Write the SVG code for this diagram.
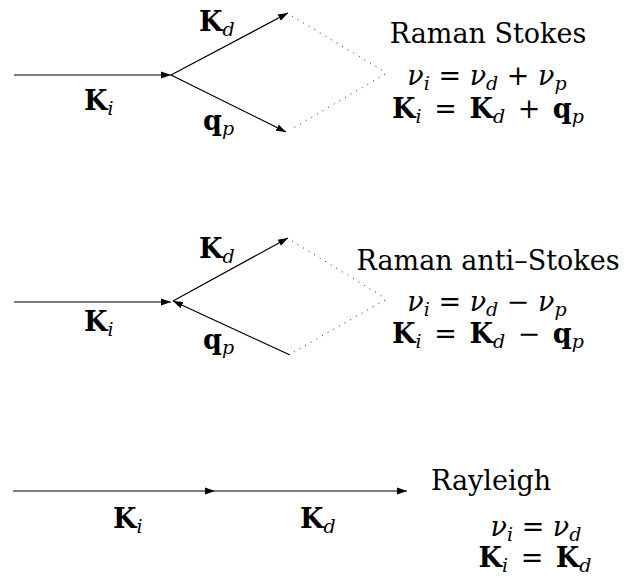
<svg xmlns="http://www.w3.org/2000/svg" width="624" height="577" viewBox="0 0 624 577">
<defs>
<marker id="ah" markerUnits="userSpaceOnUse" markerWidth="10" markerHeight="8" refX="10" refY="4" orient="auto" viewBox="0 0 10 8"><path d="M0,0.5 L10,4 L0,7.5 z" fill="#000"/></marker>
</defs>
<rect width="624" height="577" fill="#fff"/>
<g id="connectors" stroke="#000" fill="none">
<g stroke-width="1.2">
<line x1="14" y1="75" x2="171" y2="75" marker-end="url(#ah)"/>
<line x1="171" y1="75" x2="288" y2="13" marker-end="url(#ah)"/>
<line x1="171" y1="75" x2="286" y2="132" marker-end="url(#ah)"/>
<line x1="14" y1="302" x2="171" y2="302" marker-end="url(#ah)"/>
<line x1="173" y1="301" x2="288" y2="238" marker-end="url(#ah)"/>
<line x1="290" y1="355" x2="173" y2="301" marker-end="url(#ah)"/>
<line x1="13" y1="491" x2="215" y2="491" marker-end="url(#ah)"/>
<line x1="215" y1="491" x2="407" y2="491" marker-end="url(#ah)"/>
</g>
<g stroke-width="1" stroke-dasharray="1 5.5" opacity="0.85">
<line x1="292" y1="16" x2="385" y2="72"/>
<line x1="385" y1="74" x2="290" y2="130"/>
<line x1="292" y1="241" x2="385" y2="298"/>
<line x1="385" y1="300" x2="292" y2="353"/>
</g>
</g>
<g id="stokes">
<text font-family="DejaVu Serif" font-size="27" x="199" y="31"><tspan font-weight="bold">K</tspan><tspan font-size="19" font-style="italic" dy="5">d</tspan></text>
<text font-family="DejaVu Serif" font-size="27" x="84" y="110"><tspan font-weight="bold">K</tspan><tspan font-size="19" font-style="italic" dy="5">i</tspan></text>
<text font-family="DejaVu Serif" font-size="27" x="203" y="130"><tspan font-weight="bold">q</tspan><tspan font-size="19" font-style="italic" dy="5">p</tspan></text>
<text font-family="DejaVu Serif" font-size="27" x="488" y="43" text-anchor="middle">Raman Stokes</text>
<text font-family="DejaVu Serif" font-size="27" x="487" y="85" text-anchor="middle"><tspan font-style="italic">ν</tspan><tspan font-size="19" font-style="italic" dy="5">i</tspan><tspan dy="-5"> = </tspan><tspan font-style="italic">ν</tspan><tspan font-size="19" font-style="italic" dy="5">d</tspan><tspan dy="-5"> + </tspan><tspan font-style="italic">ν</tspan><tspan font-size="19" font-style="italic" dy="5">p</tspan></text>
<text font-family="DejaVu Serif" font-size="27" word-spacing="4" x="488" y="118" text-anchor="middle"><tspan font-weight="bold">K</tspan><tspan font-size="19" font-style="italic" dy="5">i</tspan><tspan dy="-5"> = </tspan><tspan font-weight="bold">K</tspan><tspan font-size="19" font-style="italic" dy="5">d</tspan><tspan dy="-5"> + </tspan><tspan font-weight="bold">q</tspan><tspan font-size="19" font-style="italic" dy="5">p</tspan></text>
</g>
<g id="anti-stokes">
<text font-family="DejaVu Serif" font-size="27" x="199" y="258"><tspan font-weight="bold">K</tspan><tspan font-size="19" font-style="italic" dy="5">d</tspan></text>
<text font-family="DejaVu Serif" font-size="27" x="84" y="331"><tspan font-weight="bold">K</tspan><tspan font-size="19" font-style="italic" dy="5">i</tspan></text>
<text font-family="DejaVu Serif" font-size="27" x="203" y="349"><tspan font-weight="bold">q</tspan><tspan font-size="19" font-style="italic" dy="5">p</tspan></text>
<text font-family="DejaVu Serif" font-size="27" x="488" y="270" text-anchor="middle">Raman anti–Stokes</text>
<text font-family="DejaVu Serif" font-size="27" x="487" y="311" text-anchor="middle"><tspan font-style="italic">ν</tspan><tspan font-size="19" font-style="italic" dy="5">i</tspan><tspan dy="-5"> = </tspan><tspan font-style="italic">ν</tspan><tspan font-size="19" font-style="italic" dy="5">d</tspan><tspan dy="-5"> − </tspan><tspan font-style="italic">ν</tspan><tspan font-size="19" font-style="italic" dy="5">p</tspan></text>
<text font-family="DejaVu Serif" font-size="27" word-spacing="4" x="488" y="343" text-anchor="middle"><tspan font-weight="bold">K</tspan><tspan font-size="19" font-style="italic" dy="5">i</tspan><tspan dy="-5"> = </tspan><tspan font-weight="bold">K</tspan><tspan font-size="19" font-style="italic" dy="5">d</tspan><tspan dy="-5"> − </tspan><tspan font-weight="bold">q</tspan><tspan font-size="19" font-style="italic" dy="5">p</tspan></text>
</g>
<g id="rayleigh">
<text font-family="DejaVu Serif" font-size="27" x="113" y="528"><tspan font-weight="bold">K</tspan><tspan font-size="19" font-style="italic" dy="5">i</tspan></text>
<text font-family="DejaVu Serif" font-size="27" x="300" y="528"><tspan font-weight="bold">K</tspan><tspan font-size="19" font-style="italic" dy="5">d</tspan></text>
<text font-family="DejaVu Serif" font-size="27" x="431" y="490">Rayleigh</text>
<text font-family="DejaVu Serif" font-size="27" x="536" y="536" text-anchor="middle"><tspan font-style="italic">ν</tspan><tspan font-size="19" font-style="italic" dy="5">i</tspan><tspan dy="-5"> = </tspan><tspan font-style="italic">ν</tspan><tspan font-size="19" font-style="italic" dy="5">d</tspan></text>
<text font-family="DejaVu Serif" font-size="27" word-spacing="4" x="535" y="567" text-anchor="middle"><tspan font-weight="bold">K</tspan><tspan font-size="19" font-style="italic" dy="5">i</tspan><tspan dy="-5"> = </tspan><tspan font-weight="bold">K</tspan><tspan font-size="19" font-style="italic" dy="5">d</tspan></text>
</g>
</svg>
